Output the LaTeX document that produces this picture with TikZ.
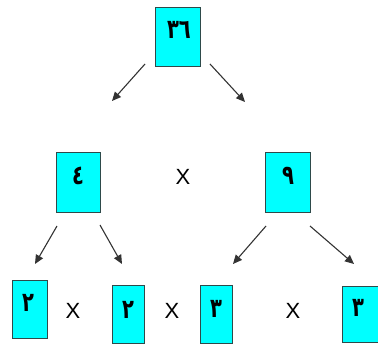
\documentclass[tikz,border=0pt]{standalone}
\usepackage{fontspec}
\setmainfont{Liberation Sans}
\newfontfamily\arabicfont[Script=Arabic]{DejaVu Sans}
\usetikzlibrary{arrows.meta}
\definecolor{boxfill}{HTML}{00FFFF}
\definecolor{boxline}{HTML}{2E4A4A}
\definecolor{arrowcol}{HTML}{333333}
\tikzset{
  numbox/.style={draw=boxline, line width=0.8pt, fill=boxfill, inner sep=0pt},
  digit/.style={font=\arabicfont\bfseries\fontsize{27}{27}\selectfont, anchor=base, inner sep=0pt, xscale=0.72, transform shape},
  times/.style={font=\fontsize{22}{22}\selectfont, inner sep=0pt},
  conn/.style={draw=arrowcol, line width=1.1pt, -{Triangle[length=9pt,width=8pt]}}
}
\begin{document}
\begin{tikzpicture}[x=1pt,y=-1pt]
\useasboundingbox (0,0) rectangle (378,347);
% boxes
\node[numbox, minimum width=45pt, minimum height=59pt] (b36) at (177.5,36.5) {};
\node[numbox, minimum width=44pt, minimum height=60pt] (b4) at (78,182) {};
\node[numbox, minimum width=45pt, minimum height=60pt] (b9) at (287.5,182) {};
\node[numbox, minimum width=35pt, minimum height=58pt] (b2a) at (29.5,309) {};
\node[numbox, minimum width=32pt, minimum height=58pt] (b2b) at (128,314) {};
\node[numbox, minimum width=32pt, minimum height=58pt] (b3a) at (216,314) {};
\node[numbox, minimum width=36pt, minimum height=56pt] (b3b) at (360,314.5) {};
% digits
\node[digit] (t36) at (179,39) {٣٦};
\node[digit] (t4) at (78,185) {٤};
\node[digit] (t9) at (288,185) {٩};
\node[digit] (t2a) at (28,312) {٢};
\node[digit] (t2b) at (128,319) {٢};
\node[digit] (t3a) at (216,318) {٣};
\node[digit] (t3b) at (358,317) {٣};
% times signs
\node[times] (x1) at (183,177) {X};
\node[times] (x2) at (73,311) {X};
\node[times] (x3) at (172,311) {X};
\node[times] (x4) at (293,311) {X};
% arrow coordinates
\coordinate (a1s) at (145,64);  \coordinate (a1e) at (112,101);
\coordinate (a2s) at (210,64);  \coordinate (a2e) at (245,102);
\coordinate (a3s) at (57,226);  \coordinate (a3e) at (35,264);
\coordinate (a4s) at (100,225); \coordinate (a4e) at (122,264);
\coordinate (a5s) at (266,226); \coordinate (a5e) at (233,264);
\coordinate (a6s) at (310,226); \coordinate (a6e) at (354,264);
\draw[conn] (a1s) -- (a1e);
\draw[conn] (a2s) -- (a2e);
\draw[conn] (a3s) -- (a3e);
\draw[conn] (a4s) -- (a4e);
\draw[conn] (a5s) -- (a5e);
\draw[conn] (a6s) -- (a6e);
\end{tikzpicture}
\end{document}
